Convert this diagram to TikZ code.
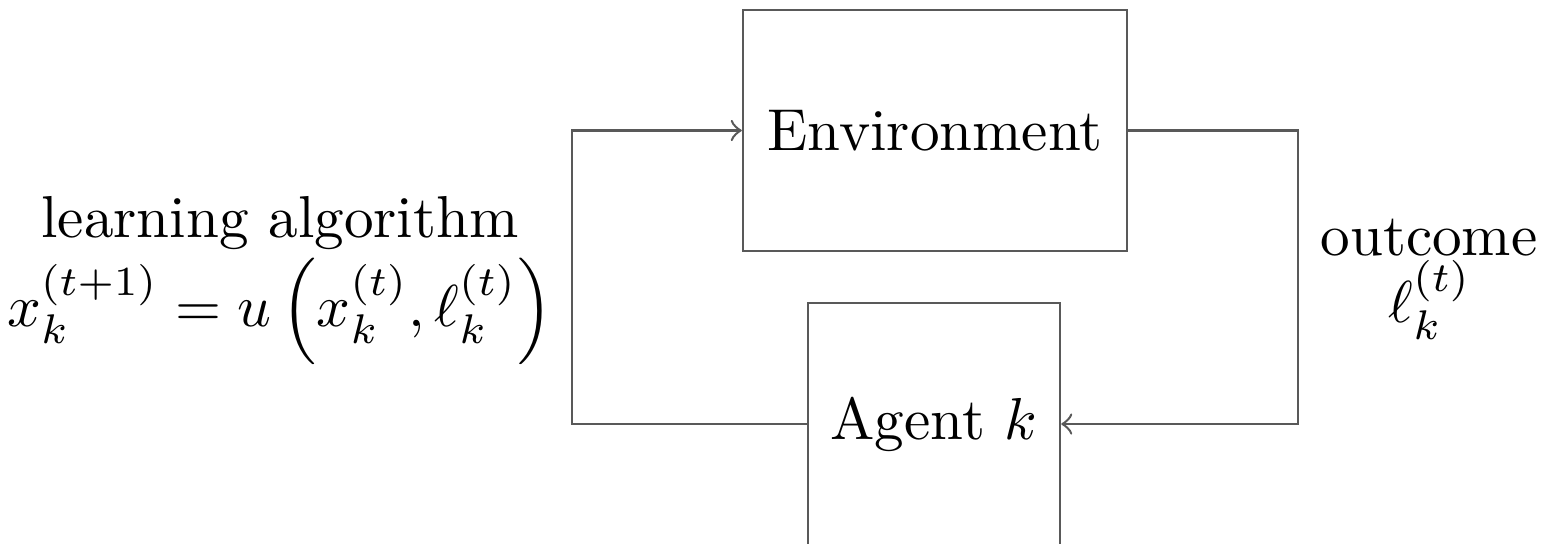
\documentclass[tikz,border=0pt]{standalone}
\usepackage{amsmath}
\begin{document}
\begin{tikzpicture}[x=0.169pt,y=-0.169pt,
  block/.style={draw=black!65,line width=0.42pt,inner sep=0pt,text=black},
  link/.style={draw=black!65,line width=0.42pt},
  label/.style={inner sep=0pt,text=black}]
\useasboundingbox (0,0) rectangle (1550,543);
% blocks
\node[block,minimum width=64.9pt,minimum height=40.8pt] (env) at (935,130.5) {Environment};
\node[block,minimum width=42.6pt,minimum height=40.9pt] (agent) at (934,424) {Agent $k$};
% corners of the feedback loop
\coordinate (lc) at (572,424);
\coordinate (rc) at (1298,130.5);
\draw[link,->] (agent.west) -- (lc) |- (env.west);
\draw[link,->] (env.east) -- (rc) |- (agent.east);
% side labels
\node[label,anchor=base] (alg) at (280,237) {learning algorithm};
\node[label,anchor=base] (rule) at (280,326) {$x_k^{(t+1)} = u\left(x_k^{(t)}, \ell_k^{(t)}\right)$};
\node[label,anchor=base] (out) at (1429,255) {outcome};
\node[label,anchor=base] (loss) at (1430,322) {$\ell_k^{(t)}$};
\end{tikzpicture}
\end{document}
